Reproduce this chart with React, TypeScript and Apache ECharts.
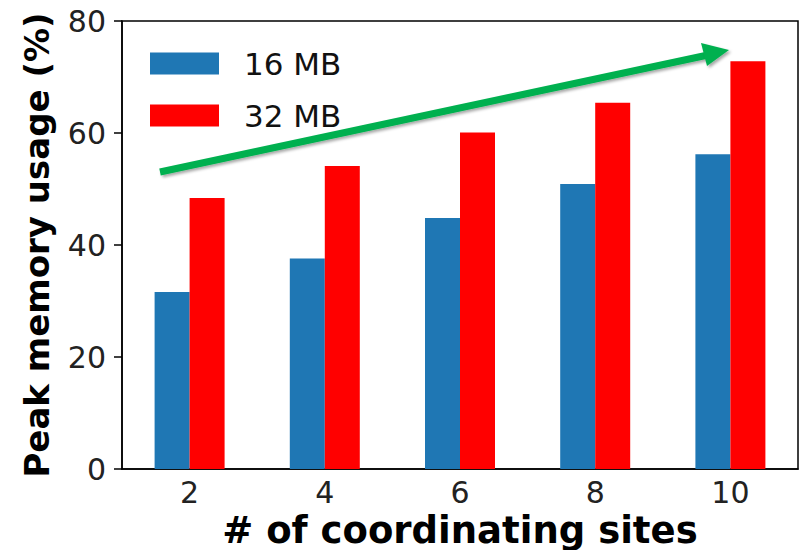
import React, { useEffect, useRef } from "react";
import * as echarts from "echarts";

const categories = ["2", "4", "6", "8", "10"];
const seriesNames = ["16 MB", "32 MB"];
const mem16 = [31.6, 37.6, 44.8, 50.9, 56.2];
const mem32 = [48.4, 54.1, 60.1, 65.4, 72.8];
const yTicks = [0, 20, 40, 60, 80];

const BLUE = "#1f77b4";
const RED = "#ff0000";
const GREEN = "#00b050";

export default function App() {
  const ref = useRef<HTMLDivElement>(null);

  useEffect(() => {
    document.body.style.margin = "0";
    if (!ref.current) return;
    const chart = echarts.init(ref.current, undefined, { renderer: "svg" });

    const arrowShadow = {
      shadowBlur: 3,
      shadowOffsetX: 2,
      shadowOffsetY: 2,
      shadowColor: "rgba(0,0,0,0.35)",
    };

    chart.setOption({
      animation: false,
      backgroundColor: "#ffffff",
      textStyle: { fontFamily: "DejaVu Sans" },
      grid: {
        left: 122,
        right: 8,
        top: 21,
        bottom: 81,
        show: true,
        borderColor: "#000",
        borderWidth: 1.5,
        containLabel: false,
        outerBoundsMode: "none",
      },
      legend: {
        orient: "vertical",
        left: 150,
        top: 48,
        padding: 0,
        itemWidth: 69,
        itemHeight: 22,
        itemGap: 21,
        icon: "rect",
        data: seriesNames,
        textStyle: {
          fontSize: 31,
          color: "#111",
          padding: [0, 0, 0, 20],
        },
      },
      xAxis: {
        type: "category",
        data: categories,
        boundaryGap: true,
        name: "# of coordinating sites",
        nameLocation: "middle",
        nameGap: 40,
        nameTextStyle: { fontSize: 37, lineHeight: 34, fontWeight: "bold", color: "#000" },
        axisLine: { lineStyle: { color: "#000", width: 1.5 } },
        axisTick: { alignWithLabel: true, length: 8, lineStyle: { color: "#000", width: 1.5 } },
        axisLabel: { fontSize: 30, color: "#222", margin: 8 },
        splitLine: { show: false },
      },
      yAxis: {
        type: "value",
        min: yTicks[0],
        max: yTicks[yTicks.length - 1],
        interval: 20,
        name: "Peak memory usage (%)",
        nameLocation: "middle",
        nameGap: 68,
        nameTextStyle: { fontSize: 34, fontWeight: "bold", color: "#000" },
        axisLine: { show: true, lineStyle: { color: "#000", width: 1.5 } },
        axisTick: { show: true, length: 8, lineStyle: { color: "#000", width: 1.5 } },
        axisLabel: { fontSize: 30, color: "#222", margin: 16 },
        splitLine: { show: false },
      },
      series: [
        {
          name: seriesNames[0],
          type: "bar",
          data: mem16,
          barWidth: 35,
          barGap: "0%",
          itemStyle: { color: BLUE },
        },
        {
          name: seriesNames[1],
          type: "bar",
          data: mem32,
          barWidth: 35,
          barGap: "0%",
          itemStyle: { color: RED },
        },
      ],
      graphic: [
        {
          type: "line",
          z: 100,
          shape: { x1: 160, y1: 172, x2: 708, y2: 55 },
          style: { stroke: GREEN, lineWidth: 7, lineCap: "butt", ...arrowShadow },
        },
        {
          type: "polygon",
          z: 101,
          shape: { points: [[701, 43], [707, 66], [729, 50]] },
          style: { fill: GREEN, ...arrowShadow },
        },
      ],
    });

    return () => chart.dispose();
  }, []);

  return <div ref={ref} style={{ width: 806, height: 550 }} />;
}
